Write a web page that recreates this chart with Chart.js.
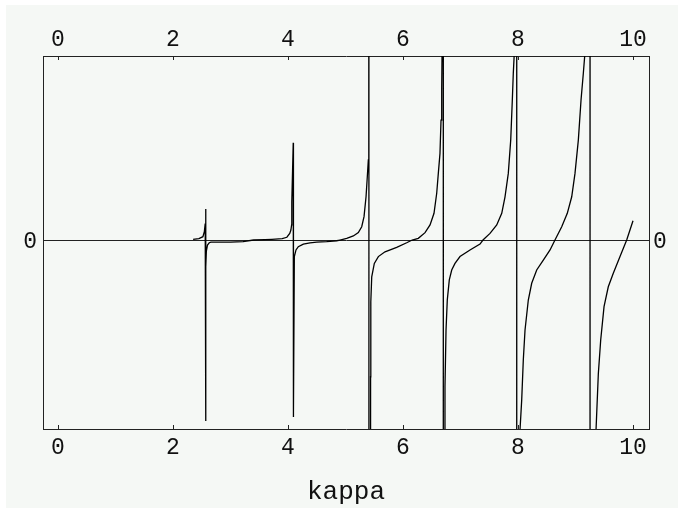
<!DOCTYPE html>
<html lang="en">
<head>
<meta charset="UTF-8">
<title>kappa</title>
<script src="https://cdn.jsdelivr.net/npm/chart.js"></script>
<style>
html,body{margin:0;padding:0;background:#fff}
.box{position:relative;width:678px;height:508px}
</style>
</head>
<body>
<div class="box"><canvas id="plot" width="678" height="508"></canvas></div>
<script>
/* --- data (off-scale values at the poles) --- */
const kappa = [
  2.35, 2.45, 2.52, 2.545, 2.56, 2.568, 2.569, 2.572, 2.58, 2.6, 2.63, 2.66, 3.0, 3.22, 3.4, 3.6, 3.72,
  3.9, 3.98, 4.03, 4.05, 4.063, 4.066, 4.091, 4.093, 4.096, 4.11, 4.139, 4.179, 4.266, 4.383, 4.499, 4.673, 4.847, 4.904,
  5.021, 5.136, 5.223, 5.282, 5.322, 5.357, 5.379, 5.397, 5.402, 5.408, 5.409, 5.436, 5.44, 5.456, 5.501, 5.571, 5.687,
  5.89, 6.064, 6.16, 6.266, 6.383, 6.47, 6.539, 6.586, 6.614, 6.643, 6.661, 6.673, 6.68, 6.7, 6.701,
  6.73, 6.748, 6.77, 6.805, 6.847, 6.904, 6.991, 7.165, 7.339, 7.391, 7.513, 7.63, 7.717, 7.774, 7.831, 7.873, 7.901,
  7.918, 7.936, 7.977, 7.978, 8.035, 8.064, 8.092, 8.122, 8.179, 8.238, 8.325, 8.44, 8.557, 8.643, 8.76, 8.857, 8.934,
  8.991, 9.049, 9.096, 9.136, 9.165, 9.252, 9.253, 9.357, 9.397, 9.438, 9.496, 9.57, 9.657, 9.774, 9.89, 10.0
];
const value = [
  0.003, 0.008, 0.018, 0.045, 0.09, 0.168, -0.984, -0.145, -0.06, -0.027, -0.015, -0.011, -0.011, -0.009, 0, 0.002, 0.004,
  0.008, 0.015, 0.036, 0.054, 0.082, 0.208, 0.529, -0.962, -0.93, -0.09, -0.054, -0.036, -0.022, -0.015, -0.012, -0.009, -0.004, 0,
  0.009, 0.022, 0.04, 0.072, 0.127, 0.235, 0.344, 0.435, 1.05, 50, -50, -0.743, -0.335, -0.2, -0.127, -0.09, -0.064,
  -0.04, -0.015, 0, 0.009, 0.04, 0.082, 0.145, 0.254, 0.362, 0.471, 0.652, 0.824, 1.05, 50, -50,
  -0.797, -0.489, -0.326, -0.217, -0.163, -0.127, -0.09, -0.054, -0.022, 0, 0.036, 0.082, 0.145, 0.235, 0.362, 0.543, 0.761,
  0.906, 1.02, 50, -50, -1.03, -0.87, -0.652, -0.489, -0.326, -0.235, -0.163, -0.109, -0.054, 0, 0.072, 0.145, 0.235,
  0.362, 0.543, 0.761, 0.906, 1.02, 50, -50, -1.03, -0.725, -0.543, -0.362, -0.254, -0.181, -0.09, 0, 0.105
];
const xTicks = [0, 2, 4, 6, 8, 10];
const yTicks = [0];
const xLabel = 'kappa';

/* --- look --- */
const ink = '#111';
const frame = '#222';
const mono = '"Liberation Mono", "DejaVu Sans Mono", monospace';

const bgPlugin = {
  id: 'bg',
  beforeDraw(chart){
    const c = chart.ctx;
    c.save(); c.fillStyle = '#f5f8f5';
    c.fillRect(6, 5, chart.width - 6, chart.height - 5);
    c.restore();
  }
};
// short inward tick marks on top and bottom frame
const tickMarks = {
  id: 'tickMarks',
  afterDraw(chart){
    const c = chart.ctx, a = chart.chartArea, s = chart.scales.x;
    c.save(); c.strokeStyle = frame; c.lineWidth = 1;
    xTicks.forEach(v => {
      const px = Math.round(s.getPixelForValue(v)) + 0.5;
      c.beginPath();
      c.moveTo(px, a.top); c.lineTo(px, a.top + 4);
      c.moveTo(px, a.bottom); c.lineTo(px, a.bottom - 4);
      c.stroke();
    });
    c.restore();
  }
};

const fixTicks = list => s => { s.ticks = list.map(v => ({value: v})); };
const xCommon = {
  type: 'linear', min: -0.261, max: 10.278,
  afterBuildTicks: fixTicks(xTicks),
  grid: {drawOnChartArea: false, drawTicks: false},
  border: {display: true, color: frame, width: 1},
  ticks: {color: ink, font: {family: mono, size: 23}, maxRotation: 0, autoSkip: false}
};
const yCommon = {
  type: 'linear', min: -1.027, max: 1,
  afterBuildTicks: fixTicks(yTicks),
  border: {display: true, color: frame, width: 1},
  ticks: {color: ink, font: {family: mono, size: 23}, labelOffset: 2}
};

new Chart(document.getElementById('plot'), {
  type: 'scatter',
  data: {
    datasets: [{
      data: kappa.map((k, i) => ({x: k, y: value[i]})),
      showLine: true, borderColor: '#000', borderWidth: 1.3,
      pointRadius: 0, tension: 0, fill: false
    }]
  },
  options: {
    responsive: false, animation: false,
    layout: {padding: 0},
    plugins: {legend: {display: false}, tooltip: {enabled: false}},
    scales: {
      x: Object.assign({}, xCommon, {
        position: 'bottom',
        ticks: Object.assign({}, xCommon.ticks, {padding: 5}),
        title: {display: true, text: xLabel, color: ink, font: {family: mono, size: 26}, padding: {top: 7, bottom: 0}},
        afterFit: s => { s.height = 79; }
      }),
      x2: Object.assign({}, xCommon, {
        position: 'top',
        ticks: Object.assign({}, xCommon.ticks, {padding: 2}),
        afterFit: s => { s.height = 56; }
      }),
      y: Object.assign({}, yCommon, {
        position: 'left',
        grid: {color: frame, lineWidth: 1, drawTicks: false},
        ticks: Object.assign({}, yCommon.ticks, {padding: 6}),
        afterFit: s => { s.width = 43; }
      }),
      y2: Object.assign({}, yCommon, {
        position: 'right',
        grid: {drawOnChartArea: false, drawTicks: false},
        ticks: Object.assign({}, yCommon.ticks, {padding: 4}),
        afterFit: s => { s.width = 29; }
      })
    }
  },
  plugins: [bgPlugin, tickMarks]
});
</script>
</body>
</html>
